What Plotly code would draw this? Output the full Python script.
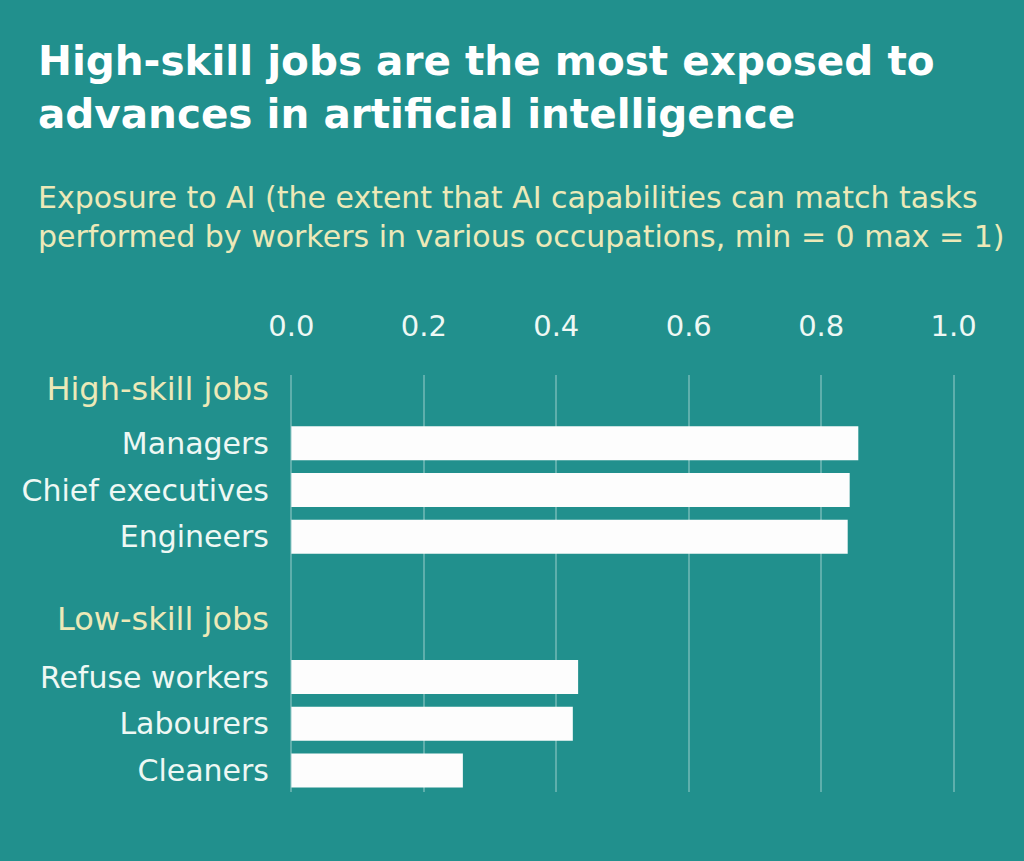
import plotly.graph_objects as go

# ---- data ----
high_skill_jobs = ["Managers", "Chief executives", "Engineers"]
high_skill_values = [0.856, 0.843, 0.840]
low_skill_jobs = ["Refuse workers", "Labourers", "Cleaners"]
low_skill_values = [0.433, 0.425, 0.259]
group_labels = ["High-skill jobs", "Low-skill jobs"]
x_ticks = [0.0, 0.2, 0.4, 0.6, 0.8, 1.0]
x_tick_labels = ["0.0", "0.2", "0.4", "0.6", "0.8", "1.0"]

title_text = "High-skill jobs are the most exposed to<br>advances in artificial intelligence"
subtitle_text = ("Exposure to AI (the extent that AI capabilities can match tasks<br>"
                 "performed by workers in various occupations, min = 0 max = 1)")

# ---- styling ----
W, H = 1024, 861
L, R, T, B = 290, 69, 375, 69
BG = "#21908d"
HEADER_COL = "#ece9b8"
TEXT_COL = "#eef8f4"
FONT = "DejaVu Sans, Liberation Sans, Arial, sans-serif"

# row layout: header row, jobs, gap, header row, jobs
high_pos = [0, 1, 2]
low_pos = [5, 6, 7]
header_pos = [-1.14, 3.76]

fig = go.Figure()
fig.add_trace(go.Bar(
    x=high_skill_values + low_skill_values,
    y=high_pos + low_pos,
    orientation="h",
    width=0.73,
    marker=dict(color="#fdfdfd", line=dict(width=0)),
    hoverinfo="x+text",
    text=high_skill_jobs + low_skill_jobs,
    textposition="none",
))

hdr = '<span style="color:{c};font-size:32px">{t}</span>'
tickvals = [header_pos[0]] + high_pos + [header_pos[1]] + low_pos
ticktext = ([hdr.format(c=HEADER_COL, t=group_labels[0])] + high_skill_jobs +
            [hdr.format(c=HEADER_COL, t=group_labels[1])] + low_skill_jobs)

pw = W - L - R
ph = H - T - B


def px_x(px):
    return (px - L) / pw


def px_y(py):
    return (H - B - py) / ph


GRID = "rgba(255,255,255,0.28)"

fig.update_layout(
    width=W, height=H,
    margin=dict(l=L, r=R, t=T, b=B, autoexpand=False),
    paper_bgcolor=BG, plot_bgcolor=BG,
    showlegend=False,
    font=dict(family=FONT, color=TEXT_COL),
    xaxis=dict(
        side="top", range=[-0.002, 1.002], tickvals=x_ticks, ticktext=x_tick_labels,
        showgrid=True, gridcolor=GRID, gridwidth=1.5,
        zeroline=False, showline=False, ticks="",
        tickfont=dict(size=29, color=TEXT_COL, family=FONT),
        ticklabelstandoff=32, fixedrange=True,
    ),
    yaxis=dict(
        range=[7.46, -1.46], tickvals=tickvals, ticktext=ticktext,
        showgrid=False, zeroline=False, showline=False, ticks="",
        tickfont=dict(size=30, color=TEXT_COL, family=FONT),
        ticklabelstandoff=20, fixedrange=True,
    ),
    annotations=[
        dict(text=f"<b>{title_text}</b>", xref="paper", yref="paper",
             x=px_x(36), y=px_y(87), xanchor="left", yanchor="middle",
             align="left", showarrow=False,
             font=dict(size=40.5, color="#ffffff", family=FONT)),
        dict(text=subtitle_text, xref="paper", yref="paper",
             x=px_x(36), y=px_y(217), xanchor="left", yanchor="middle",
             align="left", showarrow=False,
             font=dict(size=30, color=HEADER_COL, family=FONT)),
    ],
)

fig.write_html("out.html", config={"displayModeBar": False},
               post_script="document.body.style.margin='0';document.body.style.padding='0';")
